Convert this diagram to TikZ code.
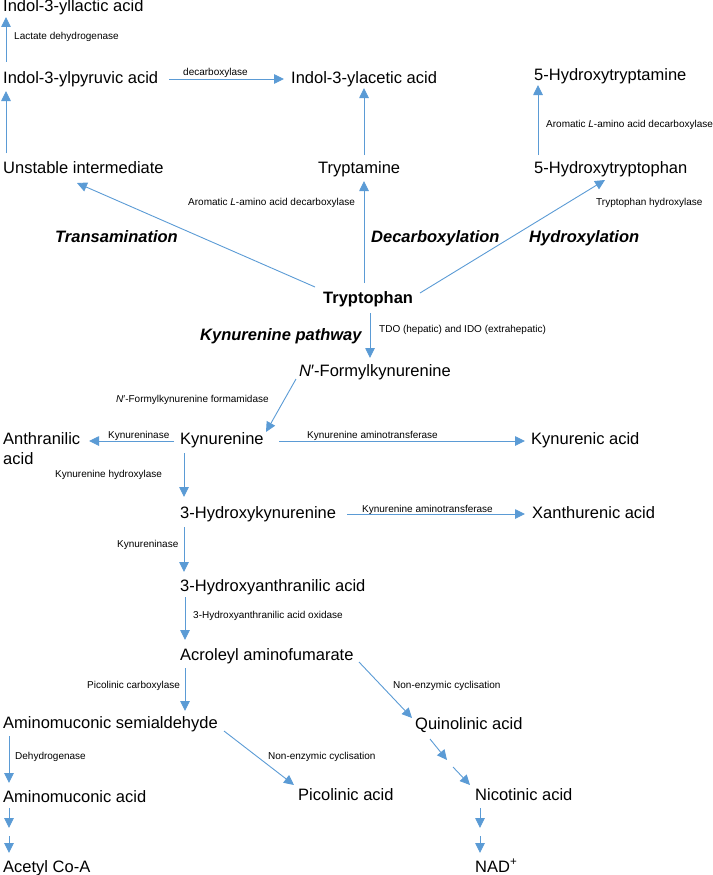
\documentclass[tikz,border=0pt]{standalone}
\usepackage{fontspec}
\setmainfont{Liberation Sans}
\usetikzlibrary{arrows.meta,calc}
\definecolor{arrowblue}{RGB}{91,155,213}
\begin{document}
\begin{tikzpicture}[x=1pt,y=-1pt,
  big/.style={anchor=base west, inner sep=0pt, font=\fontsize{16.5}{19.8}\selectfont},
  small/.style={anchor=base west, inner sep=0pt, font=\fontsize{10}{12}\selectfont},
  routelbl/.style={anchor=base west, inner sep=0pt, font=\fontsize{16.5}{19.8}\selectfont\bfseries\itshape},
  arr/.style={draw=arrowblue, line width=0.9pt, -{Triangle[length=10pt,width=9.5pt]}}]
\useasboundingbox (0,0) rectangle (712,875);

% ---- compounds ----
\node[big] (ila) at (3,12) {Indol-3-yllactic acid};
\node[big] (ipa) at (3,83) {Indol-3-ylpyruvic acid};
\node[big] (iaa) at (291,83) {Indol-3-ylacetic acid};
\node[big] (ht) at (534,81) {5-Hydroxytryptamine};
\node[big] (ui) at (3,173) {Unstable intermediate};
\node[big] (tpa) at (318,173) {Tryptamine};
\node[big] (htp) at (534,173) {5-Hydroxytryptophan};
\node[big,font=\fontsize{16.5}{19.8}\selectfont\bfseries] (trp) at (323,303) {Tryptophan};
\node[big] (nfk) at (299,376) {\textit{N}′-Formylkynurenine};
\node[big] (anth) at (3,444) {Anthranilic};
\node[big] (antha) at (3,464) {acid};
\node[big] (kyn) at (180,444) {Kynurenine};
\node[big] (kna) at (531,444) {Kynurenic acid};
\node[big] (hk) at (180,518) {3-Hydroxykynurenine};
\node[big] (xa) at (532,518) {Xanthurenic acid};
\node[big] (haa) at (180,591) {3-Hydroxyanthranilic acid};
\node[big] (acr) at (180,660) {Acroleyl aminofumarate};
\node[big] (ams) at (3,728) {Aminomuconic semialdehyde};
\node[big] (qa) at (415,729) {Quinolinic acid};
\node[big] (ama) at (3,802) {Aminomuconic acid};
\node[big] (pa) at (298,800) {Picolinic acid};
\node[big] (na) at (475,800) {Nicotinic acid};
\node[big] (aca) at (3,872) {Acetyl Co-A};
\node[big] (nad) at (475,872) {NAD\textsuperscript{+}};

% ---- route labels ----
\node[routelbl] (ltr) at (55,242) {Transamination};
\node[routelbl] (ldc) at (371,242) {Decarboxylation};
\node[routelbl] (lhy) at (529,242) {Hydroxylation};
\node[routelbl] (lkp) at (200,340) {Kynurenine pathway};

% ---- enzyme labels ----
\node[small] (ld) at (14,40) {Lactate dehydrogenase};
\node[small] (dc) at (183,75) {decarboxylase};
\node[small] (aad1) at (546,127) {Aromatic \textit{L}-amino acid decarboxylase};
\node[small] (aad2) at (188,205) {Aromatic \textit{L}-amino acid decarboxylase};
\node[small] (th) at (596,205) {Tryptophan hydroxylase};
\node[small] (tdo) at (379,332) {TDO (hepatic) and IDO (extrahepatic)};
\node[small] (nfkf) at (116,402) {\textit{N}′-Formylkynurenine formamidase};
\node[small] (kyns) at (108,438) {Kynureninase};
\node[small] (kat1) at (307,438) {Kynurenine aminotransferase};
\node[small] (khy) at (55,477) {Kynurenine hydroxylase};
\node[small] (kat2) at (362,512) {Kynurenine aminotransferase};
\node[small] (kyns2) at (117,547) {Kynureninase};
\node[small] (haao) at (193,618) {3-Hydroxyanthranilic acid oxidase};
\node[small] (pcx) at (87,688) {Picolinic carboxylase};
\node[small] (nec1) at (393,688) {Non-enzymic cyclisation};
\node[small] (nec2) at (268,759) {Non-enzymic cyclisation};
\node[small] (dh) at (15,759) {Dehydrogenase};

% ---- connectors ----
\draw[arr] ($(ipa.base west)+(3,-21)$) -- ($(ila.base west)+(3,5)$);
\draw[arr] ($(ipa.base west)+(166,-4)$) -- ($(iaa.base west)+(-7,-4)$);
\draw[arr] ($(ui.base west)+(3,-20)$) -- ($(ipa.base west)+(3,8)$);
\draw[arr] ($(tpa.base west)+(46,-18)$) -- ($(iaa.base west)+(73,5)$);
\draw[arr] ($(htp.base west)+(4,-18)$) -- ($(ht.base west)+(4,4)$);
\draw[arr] ($(trp.base west)+(-8,-16)$) -- ($(ui.base west)+(74,10)$);
\draw[arr] ($(trp.base west)+(41,-20)$) -- ($(tpa.base west)+(46,8)$);
\draw[arr] ($(trp.base west)+(97,-10)$) -- ($(htp.base west)+(71,7)$);
\draw[arr] ($(trp.base west)+(47,10)$) -- ($(nfk.base west)+(71,-18)$);
\draw[arr] ($(nfk.base west)+(-3,3)$) -- ($(kyn.base west)+(86,-12)$);
\draw[arr] ($(kyn.base west)+(-6,-3)$) -- ($(anth.base west)+(86,-3)$);
\draw[arr] ($(kyn.base west)+(99,-3)$) -- ($(kna.base west)+(-6,-3)$);
\draw[arr] ($(kyn.base west)+(4,9)$) -- ($(hk.base west)+(4,-21)$);
\draw[arr] ($(hk.base west)+(167,-4)$) -- ($(xa.base west)+(-7,-4)$);
\draw[arr] ($(hk.base west)+(4,9)$) -- ($(haa.base west)+(4,-19)$);
\draw[arr] ($(haa.base west)+(5,6)$) -- ($(acr.base west)+(5,-20)$);
\draw[arr] ($(acr.base west)+(5,8)$) -- ($(ams.base west)+(182,-17)$);
\draw[arr] ($(acr.base west)+(179,2)$) -- ($(qa.base west)+(-3,-11)$);
\draw[arr] ($(ams.base west)+(221,3)$) -- ($(pa.base west)+(-4,-15)$);
\draw[arr] ($(ams.base west)+(6,8)$) -- ($(ama.base west)+(6,-19)$);

\coordinate (qn1) at ($(qa.base west)+(32,31)$);
\coordinate (qn2) at ($(qa.base west)+(38,38)$);
\draw[arr] ($(qa.base west)+(15,10)$) -- (qn1);
\draw[arr] (qn2) -- ($(na.base west)+(-5,-15)$);

\coordinate (aa1) at ($(ama.base west)+(6,26)$);
\coordinate (aa2) at ($(ama.base west)+(6,34)$);
\draw[arr] ($(ama.base west)+(6,6)$) -- (aa1);
\draw[arr] (aa2) -- ($(aca.base west)+(6,-19)$);

\coordinate (nn1) at ($(na.base west)+(5,28)$);
\coordinate (nn2) at ($(na.base west)+(5,36)$);
\draw[arr] ($(na.base west)+(5,8)$) -- (nn1);
\draw[arr] (nn2) -- ($(nad.base west)+(5,-19)$);
\end{tikzpicture}
\end{document}
